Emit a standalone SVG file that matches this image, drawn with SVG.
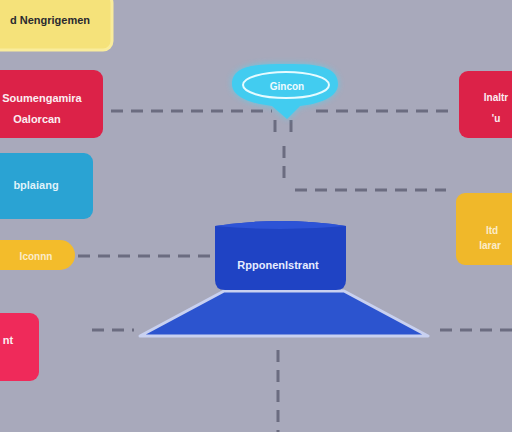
<svg xmlns="http://www.w3.org/2000/svg" width="512" height="432" viewBox="0 0 512 432">
<style>
.lbl{font-family:"Liberation Sans",Arial,sans-serif;font-weight:bold;text-anchor:middle;dominant-baseline:central}
.w{fill:#fbeef2}
.conn line{stroke:#6b6c80;stroke-width:3;stroke-dasharray:12 8;fill:none}
</style>
<defs>
<filter id="glow" x="-30%" y="-60%" width="160%" height="220%">
<feGaussianBlur stdDeviation="3"/>
</filter>
</defs>
<rect width="512" height="432" fill="#a8a9bb"/>
<g class="conn" id="connectors">
<line x1="111" y1="111" x2="272" y2="111"/>
<line x1="316" y1="111" x2="451" y2="111"/>
<line x1="275" y1="120" x2="275" y2="137"/>
<line x1="291" y1="120" x2="291" y2="137"/>
<line x1="284" y1="146" x2="284" y2="180"/>
<line x1="295" y1="190" x2="446" y2="190"/>
<line x1="78" y1="256" x2="214" y2="256"/>
<line x1="92" y1="330" x2="134" y2="330"/>
<line x1="440" y1="330" x2="512" y2="330"/>
<line x1="278" y1="350" x2="278" y2="432"/>
</g>
<g id="node-yellow-top">
<rect x="-12" y="-6" width="124" height="56" rx="9" fill="#f5e27a" stroke="#f9ec9c" stroke-width="3"/>
<text class="lbl" x="50" y="20" font-size="11" fill="#2a2a30">d Nengrigemen</text>
</g>
<g id="node-red-left">
<rect x="-12" y="70" width="115" height="68" rx="9" fill="#dc2248"/>
<text class="lbl w" x="42" y="98" font-size="11">Soumengamira</text>
<text class="lbl w" x="37" y="119" font-size="11">Oalorcan</text>
</g>
<g id="node-blue-left">
<rect x="-12" y="153" width="105" height="66" rx="9" fill="#2aa3d3"/>
<text class="lbl" x="36" y="185" font-size="11" fill="#dff2fa">bplaiang</text>
</g>
<g id="node-yellow-pill">
<rect x="-20" y="240" width="95" height="30" rx="15" fill="#f3bc2b"/>
<text class="lbl" x="36" y="256" font-size="10" fill="#fbeccb">Iconnn</text>
</g>
<g id="node-red-bottom">
<rect x="-12" y="313" width="51" height="68" rx="9" fill="#ef2a5a"/>
<text class="lbl w" x="8" y="340" font-size="11">nt</text>
</g>
<g id="node-bubble">
<path d="M232,84 C232,64 260,64 285,64 C310,64 338,64 338,84 C338,98 318,104 300,106 L287,119 L272,106 C254,104 232,98 232,84 Z" fill="#4fd6f6" filter="url(#glow)" opacity="0.7"/>
<path d="M232,84 C232,64 260,64 285,64 C310,64 338,64 338,84 C338,98 318,104 300,106 L287,119 L272,106 C254,104 232,98 232,84 Z" fill="#42ccf0"/>
<ellipse cx="286" cy="85" rx="43" ry="13" fill="none" stroke="#e6fbff" stroke-width="2"/>
<text class="lbl" x="287" y="86" font-size="10" fill="#eefbff">Gincon</text>
</g>
<g id="node-red-right">
<rect x="459" y="71" width="64" height="67" rx="9" fill="#dc2248"/>
<text class="lbl w" x="496" y="97" font-size="10">Inaltr</text>
<text class="lbl w" x="496" y="118" font-size="10">'u</text>
</g>
<g id="node-yellow-right">
<rect x="456" y="193" width="66" height="72" rx="9" fill="#f0b82a"/>
<text class="lbl" x="492" y="230" font-size="10" fill="#fbeccb">Itd</text>
<text class="lbl" x="490" y="245" font-size="10" fill="#fbeccb">Iarar</text>
</g>
<g id="node-platform">
<polygon points="140,336 224,291 344,291 428,336" fill="#2c54cf" stroke="#c9d1f0" stroke-width="3" stroke-linejoin="round"/>
</g>
<g id="node-cylinder">
<path d="M215,226 Q280,216 346,226 L346,280 Q346,290 336,290 L225,290 Q215,290 215,280 Z" fill="#1f43c4"/>
<path d="M215,226 Q280,216 346,226 Q280,232 215,226 Z" fill="#2d53d6"/>
<text class="lbl" x="278" y="265" font-size="11" fill="#e6ecff">Rpponenlstrant</text>
</g>
</svg>
